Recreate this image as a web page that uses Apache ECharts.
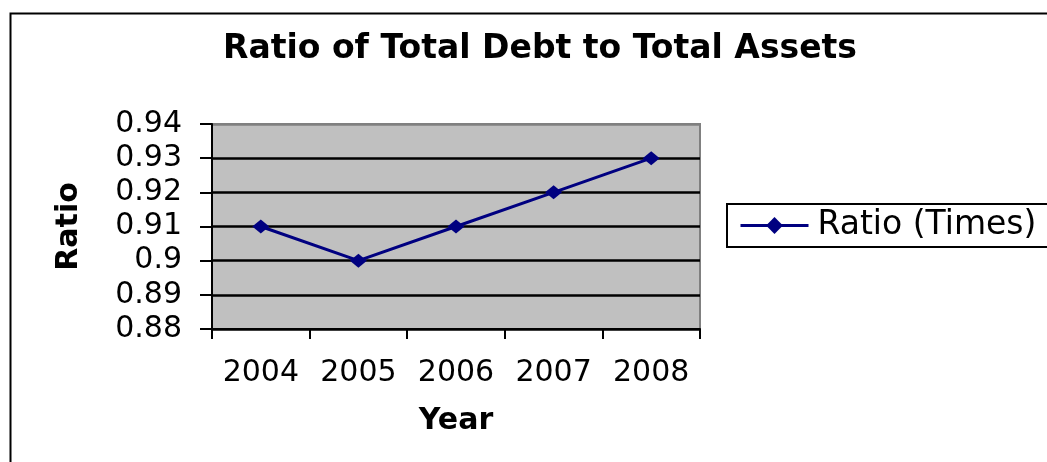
<!DOCTYPE html>
<html><head><meta charset="utf-8">
<script src="https://cdn.jsdelivr.net/npm/echarts@6/dist/echarts.min.js"></script>
<style>html,body{margin:0;padding:0;background:#fff}#c{width:1047px;height:462px}</style>
</head><body><div id="c"></div>
<script>
const years = ['2004', '2005', '2006', '2007', '2008'];
const ratioValues = [0.91, 0.90, 0.91, 0.92, 0.93];
const seriesName = 'Ratio (Times)';
const titleText = 'Ratio of Total Debt to Total Assets';

const FONT = 'DejaVu Sans';
const chart = echarts.init(document.getElementById('c'), null, {renderer: 'canvas'});
chart.setOption({
  backgroundColor: '#fff',
  animation: false,
  graphic: [{
    type: 'rect', left: 8, top: 11, shape: {x: 0, y: 0, width: 1200, height: 600},
    style: {fill: 'none', stroke: '#000', lineWidth: 2}, z: -1
  }],
  title: {
    text: titleText, left: 535, top: 28, textAlign: 'center',
    textStyle: {fontFamily: FONT, fontWeight: 'bold', fontSize: 33, color: '#000'}
  },
  legend: {
    left: 727, top: 204, orient: 'vertical',
    data: [seriesName],
    itemWidth: 68, itemHeight: 21,
    itemGap: 10,
    padding: [5, 30, 5, 12],
    borderColor: '#000', borderWidth: 2,
    lineStyle: {width: 3, color: '#000080'},
    textStyle: {fontFamily: FONT, fontSize: 33, color: '#000', padding: [0, 0, 0, 4]}
  },
  grid: {
    left: 212, right: 347, top: 124, bottom: 133,
    show: true, backgroundColor: '#c0c0c0', borderColor: '#808080', borderWidth: 2
  },
  xAxis: {
    type: 'category', data: years, boundaryGap: true,
    name: 'Year', nameLocation: 'middle', nameGap: 77,
    nameTextStyle: {fontFamily: FONT, fontWeight: 'bold', fontSize: 30, color: '#000'},
    axisLine: {lineStyle: {color: '#000', width: 2}},
    axisTick: {show: true, interval: 0, length: 10, lineStyle: {color: '#000', width: 2}},
    axisLabel: {interval: 0, margin: 29, fontFamily: FONT, fontSize: 30, color: '#000'},
    splitLine: {show: false}
  },
  yAxis: {
    type: 'value', min: 0.88, max: 0.94, interval: 0.01,
    name: 'Ratio', nameLocation: 'middle', nameGap: 128, nameRotate: 90,
    nameTextStyle: {fontFamily: FONT, fontWeight: 'bold', fontSize: 30, color: '#000'},
    axisLine: {show: true, lineStyle: {color: '#000', width: 2}},
    axisTick: {show: true, length: 12, lineStyle: {color: '#000', width: 2}},
    axisLabel: {margin: 30, fontFamily: FONT, fontSize: 30, color: '#000',
      formatter: v => String(Number(v.toFixed(2)))},
    splitLine: {show: true, lineStyle: {color: ['#000','#000','#000','#000','#000','#000','#808080'], width: 2.5}}
  },
  series: [{
    name: seriesName, type: 'line', data: ratioValues,
    symbol: 'diamond', symbolSize: [17, 14],
    lineStyle: {color: '#000080', width: 3},
    itemStyle: {color: '#000080'}
  }]
});
</script></body></html>
